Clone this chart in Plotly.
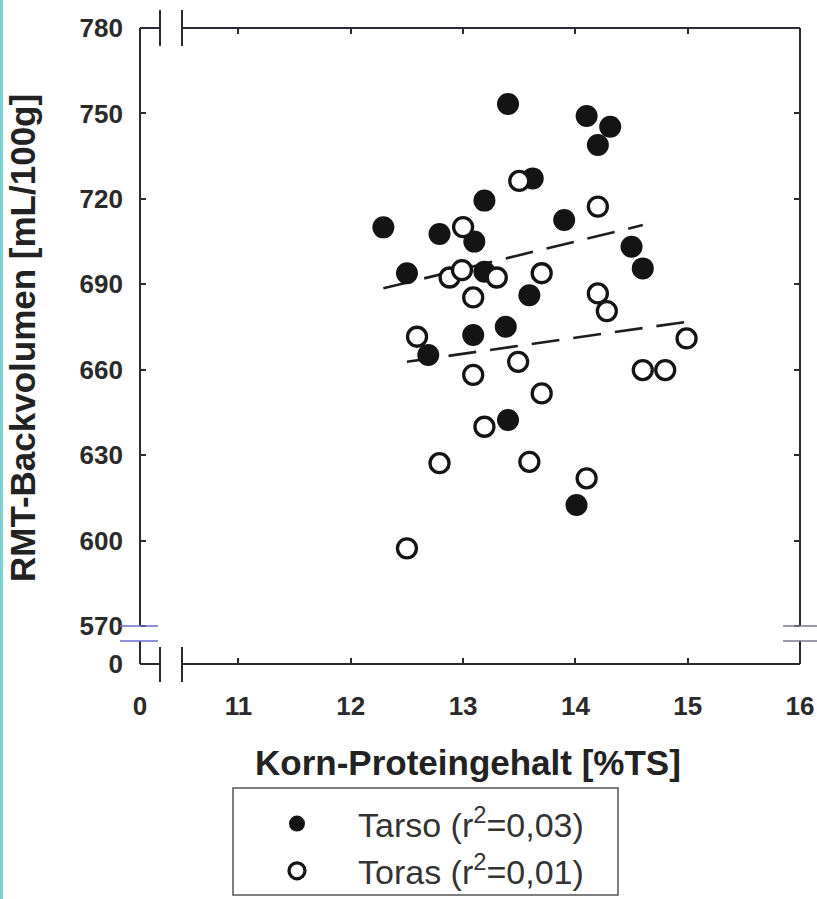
import plotly.graph_objects as go

# ---------------- data ----------------
tarso_x = [13.40, 14.10, 14.31, 14.20, 13.62, 13.19, 13.90, 12.29, 12.79, 13.10,
           14.50, 14.60, 12.50, 13.19, 13.59, 13.09, 13.38, 12.69, 13.40, 14.01]
tarso_y = [753.3, 749.1, 745.3, 738.9, 727.2, 719.4, 712.6, 710.0, 707.7, 705.0,
           703.2, 695.6, 693.9, 694.4, 686.2, 672.2, 675.1, 665.2, 642.4, 612.5]

toras_x = [13.50, 13.00, 14.20, 12.88, 12.99, 13.30, 13.70, 13.09, 14.20, 14.28, 12.59,
           14.99, 13.49, 13.09, 14.60, 14.80, 13.70, 13.19, 12.79, 13.59, 14.10, 12.50]
toras_y = [726.3, 710.1, 717.3, 692.4, 695.0, 692.4, 693.9, 685.4, 686.8, 680.6, 671.6,
           671.0, 662.8, 658.2, 659.9, 659.9, 651.7, 640.0, 627.2, 627.7, 621.9, 597.3]

# regression lines (end points)
tarso_fit_x = [12.29, 14.60]
tarso_fit_y = [688.6, 710.8]
toras_fit_x = [12.50, 15.00]
toras_fit_y = [662.8, 676.9]

# axis ticks (broken axes: "0" sits at the start of each axis)
x_range = [10.123, 16.0]
y_range = [556.7, 780.0]
x_tickvals = [x_range[0], 11, 12, 13, 14, 15, 16]
x_ticktext = ["0", "11", "12", "13", "14", "15", "16"]
y_tickvals = [y_range[0], 570, 600, 630, 660, 690, 720, 750, 780]
y_ticktext = ["0", "570", "600", "630", "660", "690", "720", "750", "780"]

names = ["Tarso (r<sup>2</sup>=0,03)", "Toras (r<sup>2</sup>=0,01)"]
x_title = "Korn-Proteingehalt [%TS]"
y_title = "RMT-Backvolumen [mL/100g]"

# ---------------- figure ----------------
W, H = 817, 899
L, R, T, B = 140, 17, 28, 235
PW, PH = W - L - R, H - T - B


def pxx(x):
    return (x - L) / PW


def pyy(y):
    return (H - B - y) / PH


INK = "#2b2b33"
fig = go.Figure()

fig.add_trace(go.Scatter(x=tarso_fit_x, y=tarso_fit_y, mode="lines", showlegend=False,
                         line=dict(color="#1e1e1e", width=2.6, dash="28px,14px"),
                         hoverinfo="skip"))
fig.add_trace(go.Scatter(x=toras_fit_x, y=toras_fit_y, mode="lines", showlegend=False,
                         line=dict(color="#1e1e1e", width=2.6, dash="28px,14px"),
                         hoverinfo="skip"))
fig.add_trace(go.Scatter(x=tarso_x, y=tarso_y, mode="markers", name=names[0],
                         legendgroup="a",
                         marker=dict(symbol="circle", size=22, color="#141414",
                                     line=dict(width=0))))
fig.add_trace(go.Scatter(x=toras_x, y=toras_y, mode="markers", name=names[1],
                         legendgroup="b",
                         marker=dict(symbol="circle", size=19, color="white",
                                     line=dict(width=3.3, color="#141414"))))

shapes = []


def seg(x0, y0, x1, y1, color=INK, width=2):
    shapes.append(dict(type="line", xref="paper", yref="paper",
                       x0=pxx(x0), y0=pyy(y0), x1=pxx(x1), y1=pyy(y1),
                       line=dict(color=color, width=width), layer="above"))


# frame with gaps
seg(140, 28, 160, 28); seg(182, 28, 800, 28)
seg(140, 664, 160, 664); seg(182, 664, 800, 664)
seg(140, 28, 140, 626); seg(140, 641, 140, 664)
seg(800, 28, 800, 626); seg(800, 641, 800, 664)
# break marks
for xb in (160, 182):
    seg(xb, 10, xb, 46)
    seg(xb, 647, xb, 682)
seg(120, 626, 158, 626, color="#6c6cd0", width=1.6)
seg(120, 641, 158, 641, color="#6c6cd0", width=1.6)
seg(783, 626, 817, 626, color="#7a7a8a", width=1.6)
seg(783, 641, 817, 641, color="#7a7a8a", width=1.6)

# legend frame
shapes.append(dict(type="rect", xref="paper", yref="paper",
                   x0=pxx(233), x1=pxx(618), y0=pyy(895), y1=pyy(788),
                   line=dict(color="#555", width=1.5), fillcolor="rgba(0,0,0,0)",
                   layer="below"))

# teal strip at the left edge of the scan
shapes.append(dict(type="rect", xref="paper", yref="paper",
                   x0=pxx(0), x1=pxx(3), y0=pyy(H), y1=pyy(0),
                   fillcolor="#7fd0d0", line=dict(width=0), layer="above"))

annotations = [
    dict(text=x_title, xref="paper", yref="paper", x=pxx(468), y=pyy(762),
         xanchor="center", yanchor="middle", showarrow=False,
         font=dict(family="Liberation Sans", size=35, color="#222", weight="bold")),
    dict(text=y_title, xref="paper", yref="paper", x=pxx(22), y=pyy(338),
         xanchor="center", yanchor="middle", showarrow=False, textangle=-90,
         font=dict(family="Liberation Sans", size=35, color="#222", weight="bold")),
]

tickfont = dict(family="Liberation Sans", size=26, color="#2a2a2a", weight="bold")
fig.update_layout(
    width=W, height=H,
    margin=dict(l=L, r=R, t=T, b=B, autoexpand=False),
    paper_bgcolor="white", plot_bgcolor="white",
    shapes=shapes, annotations=annotations,
    xaxis=dict(range=x_range, tickvals=x_tickvals, ticktext=x_ticktext,
               showgrid=False, zeroline=False, showline=False,
               ticks="inside", ticklen=6, tickwidth=1.5, tickcolor=INK,
               mirror="ticks", tickfont=tickfont, ticklabelstandoff=24),
    yaxis=dict(range=y_range, tickvals=y_tickvals, ticktext=y_ticktext,
               showgrid=False, zeroline=False, showline=False,
               ticks="inside", ticklen=6, tickwidth=1.5, tickcolor=INK,
               mirror="ticks", tickfont=tickfont, ticklabelstandoff=16),
    legend=dict(x=pxx(236), y=pyy(795), xanchor="left", yanchor="top",
                bgcolor="rgba(0,0,0,0)", borderwidth=0,
                font=dict(family="Liberation Sans", size=34, color="#333"),
                itemwidth=112, tracegroupgap=0, itemclick=False),
    showlegend=True,
)

fig.write_html("out.html")
